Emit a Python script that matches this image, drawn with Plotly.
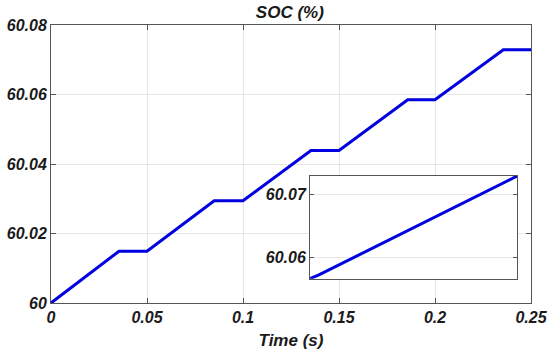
import plotly.graph_objects as go

# Main SOC curve (time in s, SOC in %)
time_s = [0.0, 0.0354, 0.05, 0.085, 0.1, 0.1354, 0.15, 0.1858, 0.2, 0.2356, 0.25]
soc_pct = [60.0, 60.0149, 60.0149, 60.0294, 60.0294, 60.0439, 60.0439, 60.0585, 60.0585, 60.0729, 60.0729]

# Inset (zoomed segment)
inset_t = [0.2, 0.2015, 0.235]
inset_soc = [60.0567, 60.0573, 60.0729]

x_ticks = [0, 0.05, 0.1, 0.15, 0.2, 0.25]
x_labels = ["0", "0.05", "0.1", "0.15", "0.2", "0.25"]
y_ticks = [60, 60.02, 60.04, 60.06, 60.08]
y_labels = ["60", "60.02", "60.04", "60.06", "60.08"]
inset_y_ticks = [60.06, 60.07]
inset_y_labels = ["60.06", "60.07"]

FONT = dict(family="Liberation Sans, Arial, sans-serif", size=16, color="#1a1a1a",
            weight="bold", style="italic")
TFONT = dict(FONT, size=17)
BLUE = "#0000E0"
GRID = "#e6e6e6"
AX = "#555555"

fig = go.Figure()
fig.add_trace(go.Scatter(x=time_s, y=soc_pct, mode="lines",
                         line=dict(color=BLUE, width=3), showlegend=False,
                         xaxis="x", yaxis="y"))
fig.add_trace(go.Scatter(x=inset_t, y=inset_soc, mode="lines",
                         line=dict(color=BLUE, width=3), showlegend=False,
                         xaxis="x2", yaxis="y2", cliponaxis=False))

fig.update_layout(
    width=550, height=356,
    margin=dict(l=51, r=19, t=25, b=53, autoexpand=False),
    paper_bgcolor="white", plot_bgcolor="white",
    font=FONT,
    title=dict(text="SOC (%)", x=0.527, xanchor="center", y=0.967, yanchor="middle",
               font=TFONT, automargin=False),
    xaxis=dict(domain=[0, 1], range=[0, 0.25], tickvals=x_ticks, ticktext=x_labels,
               showgrid=True, gridcolor=GRID, gridwidth=1, zeroline=False,
               showline=True, linecolor=AX, linewidth=1, mirror="ticks",
               ticks="inside", ticklen=5, tickcolor=AX, automargin=False,
               title=dict(text="Time (s)", font=TFONT, standoff=8),
               tickfont=FONT),
    yaxis=dict(domain=[0, 1], range=[60, 60.08], tickvals=y_ticks, ticktext=y_labels,
               showgrid=True, gridcolor=GRID, gridwidth=1, zeroline=False,
               showline=True, linecolor=AX, linewidth=1, mirror="ticks",
               ticks="inside", ticklen=5, tickcolor=AX, tickfont=FONT, automargin=False),
    xaxis2=dict(domain=[0.5396, 0.9715], range=[0.2, 0.235], anchor="y2",
                showticklabels=False, showgrid=False, zeroline=False, automargin=False,
                showline=True, linecolor=AX, linewidth=1, mirror=True, ticks=""),
    yaxis2=dict(domain=[0.0874, 0.4568], range=[60.0567, 60.0729], anchor="x2",
                tickvals=inset_y_ticks, ticktext=inset_y_labels, automargin=False,
                showgrid=True, gridcolor=GRID, gridwidth=1, zeroline=False,
                showline=True, linecolor=AX, linewidth=1, mirror="ticks",
                ticks="inside", ticklen=4, tickcolor=AX, tickfont=FONT),
)
# white background for inset
fig.add_shape(type="rect", xref="x2 domain", yref="y2 domain", x0=0, x1=1, y0=0, y1=1,
              fillcolor="white", line=dict(width=0), layer="below")

fig.write_html("out.html", config={"displayModeBar": False},
               post_script="document.body.style.margin='0';")
